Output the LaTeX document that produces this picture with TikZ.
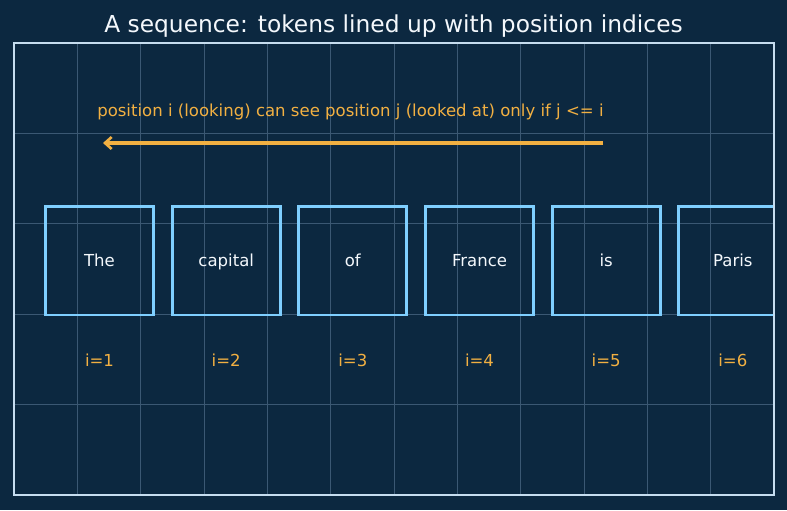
\documentclass[tikz,border=0pt]{standalone}
\usepackage{fontspec}
\setmainfont{DejaVu Sans}
\usetikzlibrary{arrows.meta}
\definecolor{bgnavy}{HTML}{0C2840}
\definecolor{framec}{HTML}{C6DDF0}
\definecolor{gridc}{HTML}{3B5873}
\definecolor{boxc}{HTML}{7FCFFF}
\definecolor{orangec}{HTML}{F2B042}
\definecolor{textc}{HTML}{F4F8FC}
\tikzset{
  px/.style={x=0.75pt,y=-0.75pt},
  tokfont/.style={font=\fontsize{12.4}{14}\selectfont,text height=1.75ex,text depth=0.45ex},
  tokbox/.style={draw=boxc,line width=2pt,minimum width=81pt,minimum height=81.5pt,inner sep=0pt,text=textc,tokfont},
  idxlabel/.style={text=orangec,tokfont,inner sep=0pt},
  gridline/.style={draw=gridc,line width=0.6pt},
  framebox/.style={draw=framec,line width=1.5pt},
  causal/.style={draw=orangec,line width=2.3pt,-{Straight Barb[length=5pt,width=9pt,line width=2pt]}},
}
\begin{document}
\begin{tikzpicture}[px]
\useasboundingbox (0,0) rectangle (787,510);
\fill[bgnavy] (0,0) rectangle (787,510);
\node[text=textc,font=\fontsize{17.5}{20}\selectfont,inner sep=0pt] (title) at (393.5,26.5) {A sequence: tokens lined up with position indices};
\begin{scope}
\clip (14,43) rectangle (774,495);
\foreach \k in {1,...,11} {\draw[gridline] ({14+63.333*\k},43) -- ({14+63.333*\k},495);}
\foreach \k in {1,...,4} {\draw[gridline] (14,{495-90.4*\k}) -- (774,{495-90.4*\k});}
\node[tokbox,text opacity=0] (t1) at (99.5,260.5) {The};
\node[tokbox,text opacity=0] (t2) at (226.2,260.5) {capital};
\node[tokbox,text opacity=0] (t3) at (352.8,260.5) {of};
\node[tokbox,text opacity=0] (t4) at (479.5,260.5) {France};
\node[tokbox,text opacity=0] (t5) at (606.2,260.5) {is};
\node[tokbox,text opacity=0] (t6) at (732.8,260.5) {Paris};
\end{scope}
\foreach \n/\w in {t1/The,t2/capital,t3/of,t4/France,t5/is,t6/Paris}
  \node[text=textc,tokfont,inner sep=0pt,yshift=-1.2pt] (\n label) at (\n.center) {\w};
\node[idxlabel] (i1) at (99.5,361.5) {i=1};
\node[idxlabel] (i2) at (226.2,361.5) {i=2};
\node[idxlabel] (i3) at (352.8,361.5) {i=3};
\node[idxlabel] (i4) at (479.5,361.5) {i=4};
\node[idxlabel] (i5) at (606.2,361.5) {i=5};
\node[idxlabel] (i6) at (732.8,361.5) {i=6};
\node[idxlabel,anchor=west] (rule) at (97,111.5) {position i (looking) can see position j (looked at) only if j <= i};
\coordinate (arrstart) at (603,143);
\coordinate (arrend) at (103,143);
\draw[causal] (arrstart) -- (arrend);
\draw[framebox] (14,43) rectangle (774,495);
\end{tikzpicture}
\end{document}
